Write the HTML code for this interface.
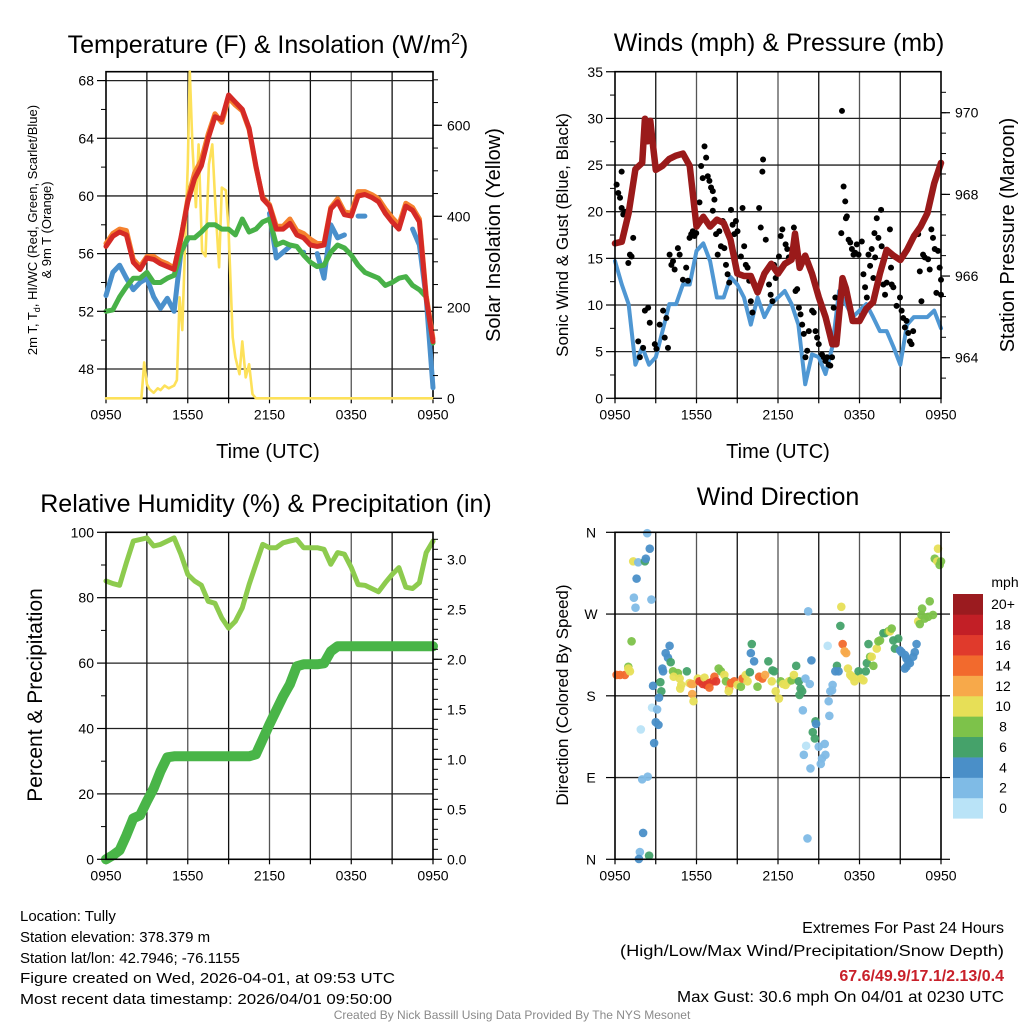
<!DOCTYPE html>
<html><head><meta charset="utf-8"><style>
html,body{margin:0;padding:0;background:#fff;}
svg{display:block;font-family:"Liberation Sans",Arial,sans-serif;}
</style></head><body>
<svg id="fig" width="1024" height="1024" viewBox="0 0 1024 1024" xmlns="http://www.w3.org/2000/svg">
<rect width="1024" height="1024" fill="#fff"/>
</svg>
<script>
// ---------------- DATA ----------------
const halfHours = [0,0.5,1,1.5,2,2.5,3,3.5,4,4.5,5,5.5,6,6.5,7,7.5,8,8.5,9,9.5,10,10.5,11,11.5,12,12.5,13,13.5,14,14.5,15,15.5,16,16.5,17,17.5,18,18.5,19,19.5,20,20.5,21,21.5,22,22.5,23,23.5,24];
const timeTickHours = [0,6,12,18,24];
const timeTickLabels = ["0950","1550","2150","0350","0950"];

const tempRed = [56.5,57.2,57.5,57.3,55.4,54.9,55.7,55.6,55.3,55.1,54.9,57.1,59.6,61.2,62.1,64.0,65.5,65.3,67.0,66.5,66.0,64.7,62.1,59.8,59.3,57.7,57.7,58.1,57.3,57.1,56.6,56.5,56.6,59.1,59.6,58.7,58.6,60.0,60.1,59.9,59.6,58.8,58.2,57.7,59.3,59.0,58.2,52.9,49.9];
const tempOrange = [56.7,57.4,57.7,57.6,55.6,55.1,55.8,55.8,55.5,55.3,55.0,57.0,59.8,61.6,62.5,64.3,65.7,65.1,66.8,66.3,65.9,64.6,62.0,59.9,59.4,57.9,57.9,58.4,57.6,57.4,57.0,56.7,56.7,59.2,59.8,58.9,58.8,60.3,60.3,60.1,59.8,59.1,58.5,58.0,59.5,59.2,58.4,53.1,50.1];
const dewGreen = [52.0,52.1,53.0,53.7,54.3,54.3,54.7,54.0,54.0,54.3,54.5,56.1,57.1,57.1,57.5,58.0,58.0,57.7,57.7,57.3,58.4,57.5,57.7,58.2,58.4,56.6,56.8,56.6,56.5,55.9,55.4,55.1,55.2,56.1,56.6,56.4,55.9,55.2,54.7,54.5,54.3,53.8,54.0,54.3,54.4,53.8,53.5,53.0,49.8];
const wcBlue = [53.1,54.7,55.2,54.3,53.5,54.0,54.3,53.0,52.2,52.9,52.0,56.1,57.0,null,null,null,null,null,null,null,null,null,null,null,58.8,55.7,56.1,56.5,null,56.1,null,56.0,54.3,58.0,57.1,57.3,null,58.6,58.6,null,null,null,null,null,null,57.7,56.6,52.9,46.7];
const tempTicks = [48,52,56,60,64,68];
const solarTicks = [0,200,400,600];
const solarHours = [0,2.6,2.8,3.0,3.2,3.5,3.8,4.0,4.3,4.6,5.0,5.2,5.4,5.6,5.85,6.0,6.15,6.35,6.6,6.8,7.05,7.3,7.55,7.8,8.05,8.3,8.5,8.8,9.0,9.3,9.5,9.8,10.0,10.25,10.5,10.75,11,24];
const solarVals = [0,0,79,31,20,12,22,18,28,22,28,40,222,150,380,514,718,551,420,558,323,312,514,558,411,288,463,457,367,134,90,53,125,46,75,9,0,0];

const windVals = [14.7,12.2,10.1,3.6,5.5,3.6,4.4,7.2,10.1,10.1,12.2,12.2,15.8,16.6,14.7,10.8,10.8,13.0,12.2,10.8,7.9,10.8,8.7,10.1,10.8,11.5,10.1,7.9,1.5,4.7,4.4,2.6,5.5,11.5,10.1,8.7,9.4,10.1,8.7,7.2,7.2,5.5,3.6,7.9,8.7,8.7,8.7,9.4,7.5];
const presHours = [0,0.5,1,1.5,2,2.2,2.4,2.6,2.8,3,3.5,4,4.5,5,5.5,6,6.5,7,7.5,8,8.5,9,9.5,10,10.5,11,11.5,12,12.5,13,13.25,13.6,14,14.5,15,15.5,16,16.3,16.75,17,17.5,18,18.5,19,19.5,20,20.5,21,21.5,22,22.5,23,23.5,24];
const presVals = [966.8,966.84,967.54,968.62,968.77,969.85,969.3,969.8,969.2,968.6,968.7,968.87,968.95,969.0,968.7,967.21,967.45,967.21,967.38,967.3,966.89,966.06,966.0,966.0,965.6,966.06,966.3,966.06,966.3,966.4,967.04,966.2,966.5,966.06,965.48,965.0,964.33,964.33,965.95,965.7,964.9,964.9,965.2,965.36,966.06,966.64,966.5,966.39,966.64,966.97,967.21,967.54,968.27,968.77];
const gustHours = [0.12,0.24,0.37,0.49,0.61,0.73,0.49,0.98,1.10,1.22,1.34,1.83,1.71,2.07,2.20,2.44,2.56,2.93,3.05,3.29,3.54,3.66,3.78,3.90,4.02,4.15,4.27,4.39,4.63,4.76,5.0,5.24,5.37,5.49,5.61,5.73,5.85,5.98,6.22,6.34,6.46,6.59,6.71,6.83,6.95,7.07,7.20,7.32,7.20,7.44,7.56,7.68,7.80,7.93,8.05,8.17,8.29,8.41,8.54,8.66,8.78,8.90,9.02,9.27,9.39,9.51,9.63,9.76,9.88,10.0,10.12,10.37,10.61,10.73,10.85,10.9,11.1,11.34,11.46,11.59,11.71,11.83,12.07,12.2,12.32,12.56,12.68,12.8,13.17,13.29,13.41,13.54,13.66,13.78,13.9,14.02,14.15,14.27,14.51,14.63,14.76,14.88,15.0,15.24,15.37,15.49,15.61,15.73,15.85,15.98,16.1,16.22,16.71,16.83,16.95,17.0,17.07,16.66,17.2,17.32,17.44,17.56,17.68,17.8,17.93,18.17,18.29,18.41,18.54,18.66,18.78,18.9,19.02,19.1,19.15,19.27,19.39,19.59,19.63,19.76,19.88,20.0,20.24,20.32,20.37,20.49,20.73,20.98,21.1,21.22,21.34,21.46,21.59,21.71,21.83,21.95,22.32,22.44,22.56,22.68,22.8,23.05,23.17,23.29,23.41,23.54,23.66,23.78,23.9,24.0,24.0];
const gustVals = [22.9,22.0,21.5,20.4,19.7,20.0,24.3,14.5,15.4,15.2,17.2,4.4,6.1,5.4,9.4,9.7,8.1,5.8,5.3,7.9,9.4,6.5,8.6,5.4,15.4,14.3,14.7,13.8,16.1,15.4,12.7,14.0,12.6,17.2,17.6,17.9,17.4,17.7,21.0,24.9,23.6,27.0,25.8,23.8,23.3,22.6,22.2,21.3,20.1,17.6,15.4,17.9,16.3,19.0,16.1,14.3,13.3,12.4,20.2,18.6,17.6,19.0,17.9,15.2,20.4,16.3,14.3,14.0,12.6,10.4,9.2,11.9,20.4,18.3,24.3,25.6,17.0,12.2,11.1,10.4,14.3,12.9,15.2,17.4,18.1,16.5,16.0,15.1,18.3,11.5,11.7,9.7,9.0,7.9,6.9,4.4,5.1,7.2,9.4,9.2,7.2,6.5,5.8,4.7,4.4,4.0,4.4,3.6,3.5,4.4,9.7,10.8,30.8,22.7,21.1,19.3,19.5,17.7,17.0,16.7,16.0,15.4,15.6,16.5,15.4,16.8,13.3,11.9,10.8,15.4,14.2,16.0,12.9,17.7,15.1,19.3,17.2,20.2,16.3,12.2,11.1,12.4,18.1,14.0,12.2,11.9,9.9,10.8,9.4,8.6,7.6,8.3,7.0,6.1,5.8,7.2,17.6,13.6,10.4,15.4,15.1,14.9,13.8,18.1,17.2,16.0,11.3,15.8,14.0,12.7,11.1];
const windTicks = [0,5,10,15,20,25,30,35];
const presTicks = [964,966,968,970];

const rhVals = [85.1,84.3,83.8,90.7,97.3,97.8,98.3,95.8,96.3,97.3,98.3,93.3,87.1,85.1,83.8,78.9,78.3,73.8,70.7,72.8,76.9,84.0,90.2,96.3,95.3,95.3,96.8,97.3,97.8,95.3,95.3,95.3,94.8,90.2,93.8,93.3,89.2,84.0,83.8,82.8,81.8,84.6,87.1,89.2,83.2,82.8,84.6,93.8,97.3];
const precipVals = [0.0,0.04,0.09,0.24,0.41,0.44,0.58,0.71,0.88,1.02,1.03,1.03,1.03,1.03,1.03,1.03,1.03,1.03,1.03,1.03,1.03,1.03,1.05,1.2,1.35,1.49,1.63,1.75,1.93,1.95,1.95,1.95,1.96,2.08,2.13,2.13,2.13,2.13,2.13,2.13,2.13,2.13,2.13,2.13,2.13,2.13,2.13,2.13,2.13];
const rhTicks = [0,20,40,60,80,100];
const precipTicks = ["0.0","0.5","1.0","1.5","2.0","2.5","3.0"];

const dirHours = [0.12,0.37,0.73,0.98,1.10,0.98,1.22,1.34,1.71,2.20,2.27,2.37,2.56,1.59,1.39,1.51,2.68,2.80,3.34,3.41,3.24,2.73,3.10,1.90,3.0,3.20,2.88,2.0,2.41,2.07,1.83,1.76,2.51,4.02,3.73,3.90,4.10,3.49,3.54,4.27,4.63,4.32,4.76,4.88,4.80,5.29,5.49,5.61,5.73,5.68,5.78,6.10,6.22,6.46,6.59,6.71,6.95,7.20,7.32,7.44,6.95,7.63,7.80,8.05,8.17,8.41,8.37,8.54,8.78,9.02,9.27,9.39,9.63,9.76,9.93,10.07,10.0,10.24,10.49,10.61,10.85,11.05,11.29,11.59,11.54,11.71,11.83,12.07,12.20,12.37,12.56,12.80,13.0,13.17,13.34,13.54,13.66,13.59,13.78,14.02,14.34,13.83,14.46,14.76,14.80,14.56,14.71,14.07,13.90,15.0,15.44,15.24,15.49,15.15,14.39,14.17,14.22,15.66,15.73,15.78,15.85,16.02,15.98,16.34,16.22,16.46,16.66,16.59,16.76,16.90,17.02,17.15,17.32,17.44,17.63,17.80,17.93,18.12,18.29,18.46,18.66,18.54,18.78,18.90,19.02,19.27,19.39,19.51,19.76,19.88,20.12,20.24,20.37,20.49,20.61,20.85,20.98,21.10,21.34,21.46,21.59,21.71,21.95,22.07,22.20,21.34,21.46,22.32,22.44,22.56,22.61,22.80,23.05,23.17,23.41,23.54,23.73,23.78,23.90,24.0];
const dirDeg = [203,203,203,212,207,210,240,328,327,328,331,359,342,309,288,277,286,191,195,185,178,167,165,143,151,148,128,88,91,29,8,0.4,4,235,227,222,217,210,207,207,205,201,199,192,188,207,194,193,193,182,174,199,196,193,200,192,194,196,201,196,189,210,207,203,196,188,185,194,196,192,190,199,203,196,206,237,227,218,190,201,199,203,218,208,196,207,185,177,196,193,192,196,197,203,213,196,188,181,185,199,193,164,219,152,149,140,133,125,115,124,127,111,115,105,100,23,273,235,174,158,185,192,186,213,207,207,278,257,237,229,227,210,203,201,196,201,207,199,197,207,237,216,223,223,213,232,240,241,249,249,251,251,254,241,232,243,230,228,225,221,218,216,223,228,237,210,212,262,259,269,276,265,267,284,269,331,328,342,324,328];
const dirSpeed = [15,15,15,9,11,11,9,11,3,7,5,3,5,5,3,3,3,5,7,7,5,1,3,1,5,5,5,3,3,5,3,5,7,5,5,5,7,5,5,9,9,11,11,11,11,7,11,13,13,13,11,11,17,17,11,17,17,17,15,17,15,9,9,11,9,13,11,15,15,11,9,15,11,11,7,7,5,5,9,15,15,13,7,7,11,7,11,11,9,11,11,11,9,11,7,7,7,7,7,3,3,3,5,7,5,7,7,1,3,3,3,3,3,3,3,3,3,1,3,3,3,3,3,7,5,5,11,7,15,13,13,11,11,11,11,11,7,11,11,7,7,7,9,11,9,11,9,9,7,7,9,11,9,7,7,7,5,5,5,5,5,5,5,5,5,5,5,11,9,9,9,9,9,9,9,9,11,11,9,9];
const speedBinColors = ["#b9e3f7","#7fbbe6","#4a8fc8","#45a26a","#7dc24a","#e7df57","#f7a94a","#f26a2d","#e03a2c","#c21f26","#9b1b1f"];
const speedBinLabels = ["0","2","4","6","8","10","12","14","16","18","20+"];
const dirTickDeg = [0,90,180,270,360];
const dirTickLabels = ["N","E","S","W","N"];

// ---------------- HELPERS ----------------
const NS = "http://www.w3.org/2000/svg";
const svg = document.getElementById('fig');
function mk(tag, attrs, parent){
  const e = document.createElementNS(NS, tag);
  for (const k in attrs) e.setAttribute(k, attrs[k]);
  (parent||svg).appendChild(e);
  return e;
}
function txt(s, x, y, size, anchor, parent, extra){
  const t = mk('text', Object.assign({x:x, y:y, 'font-size':size, 'text-anchor':anchor||'start', fill:'#000'}, extra||{}), parent);
  t.textContent = s;
  return t;
}
function linePath(xs, ys, X, Y){
  let d = ''; let pen = false;
  for (let i=0;i<xs.length;i++){
    if (ys[i]===null || ys[i]===undefined){ pen=false; continue; }
    const px = X(xs[i]).toFixed(1), py = Y(ys[i]).toFixed(1);
    if (!pen){ d += 'M'+px+' '+py+' L'+px+' '+py+' '; pen=true; }
    else d += 'L'+px+' '+py+' ';
  }
  return d;
}
function makeX(x0, x1){ return h => x0 + (h/24)*(x1-x0); }

function frame(name, x0, x1, yT, yB, hGrid){
  const g = mk('g', {});
  
  
  const X = makeX(x0, x1);
  for (let h=3; h<24; h+=3){
    const l = mk('line', {x1:X(h), x2:X(h), y1:yT, y2:yB, stroke:(h%6===0?'#555':'#111'), 'stroke-width':1.3}, g);
    
    
  }
  hGrid.forEach(y => {
    const l = mk('line', {x1:x0, x2:x1, y1:y, y2:y, stroke:'#222', 'stroke-width':1.3}, g);
    
    
  });
  for (let h=0; h<=24; h+=3){
    const t = mk('line', {x1:X(h), x2:X(h), y1:yB, y2:yB+5, stroke:'#000', 'stroke-width':1.2}, g);
    
    
  }
  timeTickHours.forEach((h,i) => {
    const t = txt(timeTickLabels[i], X(h), yB+21, 14, 'middle', g);
    
    
  });
  return {X, g};
}
function border(x0,x1,yT,yB){
  const r = mk('rect', {x:x0, y:yT, width:x1-x0, height:yB-yT, fill:'none', stroke:'#000', 'stroke-width':1.6});
  
  
}
function yTicks(x, vals, Y, side, labels, majorLen, parentName){
  const g = mk('g', {});
  
  
  vals.forEach((v,i) => {
    const y = Y(v);
    const dx = side==='left' ? -majorLen : majorLen;
    const l = mk('line', {x1:x, x2:x+dx, y1:y, y2:y, stroke:'#000', 'stroke-width':1.2}, g);
    
    
    if (labels){
      const t = txt(labels[i], side==='left' ? x-12 : x+14, y+5, 14, side==='left'?'end':'start', g);
      
      
    }
  });
}
function minorTicks(x, from, to, step, Y, side, len){
  const g = mk('g', {});
  
  
  for (let v=from; v<=to+1e-9; v+=step){
    const dx = side==='left' ? -len : len;
    const l = mk('line', {x1:x, x2:x+dx, y1:Y(v), y2:Y(v), stroke:'#000', 'stroke-width':1}, g);
    
    
  }
}
function rotLabel(s, x, y, size, name){
  const t = txt(s, x, y, size, 'middle', svg, {transform:'rotate(-90 '+x+' '+y+')'});
  
  
  return t;
}

// ---------------- PANEL 1: Temperature ----------------
(function(){
  const x0=106, x1=433, yT=71.7, yB=398.3;
  const tY = v => 369 - (v-48)*14.42;
  const sY = v => yB - v*0.455;
  const f = frame('temperature', x0, x1, yT, yB, tempTicks.map(tY));
  const X = f.X;
  border(x0,x1,yT,yB);
  const series = [
    ['solar-insolation-line', solarHours, solarVals, sY, '#fde15a', 2.6],
    ['heat-index-windchill-line', halfHours, wcBlue, tY, '#4a90cc', 5],
    ['dewpoint-line', halfHours, dewGreen, tY, '#48b148', 5],
    ['temp-9m-line', halfHours, tempOrange, tY, '#f5822f', 5],
    ['temp-2m-line', halfHours, tempRed, tY, '#d52a26', 5]
  ];
  series.forEach(s => {
    const p = mk('path', {d:linePath(s[1], s[2], X, s[3]), fill:'none', stroke:s[4], 'stroke-width':s[5], 'stroke-linejoin':'round', 'stroke-linecap':'round'});
    
    
  });
  yTicks(x0, tempTicks, tY, 'left', tempTicks.map(String), 9, 'temperature-y-axis');
  minorTicks(x0, 50, 66, 4, tY, 'left', 5);
  yTicks(x1, solarTicks, sY, 'right', solarTicks.map(String), 9, 'solar-y-axis');
  minorTicks(x1, 50, 700, 50, sY, 'right', 5);
  const title = txt('', 268, 53, 25, 'middle');
  title.innerHTML = 'Temperature (F) &amp; Insolation (W/m<tspan dy="-9" font-size="16">2</tspan><tspan dy="9">)</tspan>';
  
  
  const xl = txt('Time (UTC)', 268, 458, 20, 'middle');
  
  
  const l1 = txt('', 37, 230, 13, 'middle', svg, {transform:'rotate(-90 37 230)'});
  l1.innerHTML = '2m T, T<tspan dy="3" font-size="9">d</tspan><tspan dy="-3">, HI/WC (Red, Green, Scarlet/Blue)</tspan>';
  
  
  rotLabel('& 9m T (Orange)', 51, 230, 13, 'temperature-y-axis-title-line2');
  rotLabel('Solar Insolation (Yellow)', 500, 235, 20, 'solar-y-axis-title');
})();

// ---------------- PANEL 2: Winds & Pressure ----------------
(function(){
  const x0=615, x1=941, yT=71.7, yB=398.3;
  const wY = v => yB - v*9.33;
  const pY = v => 357.7 - (v-964)*40.83;
  const f = frame('winds', x0, x1, yT, yB, windTicks.map(wY));
  const X = f.X;
  const w = mk('path', {d:linePath(halfHours, windVals, X, wY), fill:'none', stroke:'#4f97d3', 'stroke-width':4, 'stroke-linejoin':'round', 'stroke-linecap':'round'});
  
  
  const gg = mk('g', {});
  
  
  gustHours.forEach((h,i) => {
    const c = mk('circle', {cx:X(h), cy:wY(gustVals[i]), r:3, fill:'#000'}, gg);
    
    
  });
  const p = mk('path', {d:linePath(presHours, presVals, X, pY), fill:'none', stroke:'#9a1a1a', 'stroke-width':6.5, 'stroke-linejoin':'round', 'stroke-linecap':'round'});
  
  
  border(x0,x1,yT,yB);
  yTicks(x0, windTicks, wY, 'left', windTicks.map(String), 9, 'wind-y-axis');
  minorTicks(x0, 2.5, 32.5, 5, wY, 'left', 5);
  yTicks(x1, presTicks, pY, 'right', presTicks.map(String), 9, 'pressure-y-axis');
  minorTicks(x1, 963.5, 970.5, 0.5, pY, 'right', 5);
  const title = txt('Winds (mph) & Pressure (mb)', 779, 51, 25, 'middle');
  
  
  const xl = txt('Time (UTC)', 778, 458, 20, 'middle');
  
  
  rotLabel('Sonic Wind & Gust (Blue, Black)', 568, 235, 17, 'wind-y-axis-title');
  rotLabel('Station Pressure (Maroon)', 1014, 235, 20, 'pressure-y-axis-title');
})();

// ---------------- PANEL 3: RH & Precip ----------------
(function(){
  const x0=106, x1=433, yT=532.3, yB=859.3;
  const rY = v => yB - v*3.27;
  const prY = v => yB - v*100;
  const f = frame('humidity', x0, x1, yT, yB, [20,40,60,80].map(rY));
  const X = f.X;
  const pr = mk('path', {d:linePath(halfHours, precipVals, X, prY), fill:'none', stroke:'#49b548', 'stroke-width':10, 'stroke-linejoin':'round', 'stroke-linecap':'round'});
  
  
  const rh = mk('path', {d:linePath(halfHours, rhVals, X, rY), fill:'none', stroke:'#8dcb4e', 'stroke-width':5, 'stroke-linejoin':'round', 'stroke-linecap':'round'});
  
  
  border(x0,x1,yT,yB);
  yTicks(x0, rhTicks, rY, 'left', rhTicks.map(String), 9, 'rh-y-axis');
  minorTicks(x0, 10, 90, 20, rY, 'left', 5);
  yTicks(x1, precipTicks.map(Number), prY, 'right', precipTicks, 9, 'precip-y-axis');
  minorTicks(x1, 0.1, 3.2, 0.1, prY, 'right', 5);
  const title = txt('Relative Humidity (%) & Precipitation (in)', 266, 512, 25, 'middle');
  
  
  rotLabel('Percent & Precipitation', 42, 695, 21, 'rh-y-axis-title');
})();

// ---------------- PANEL 4: Wind Direction ----------------
(function(){
  const x0=615, x1=941, yT=532.3, yB=859.3;
  const dY = v => yB - v*0.9083;
  const f = frame('direction', x0, x1, yT, yB, [90,180,270].map(dY));
  const X = f.X;
  const gd = mk('g', {});
  
  
  dirHours.forEach((h,i) => {
    const bin = Math.min(10, Math.floor(dirSpeed[i]/2));
    const c = mk('circle', {cx:X(h), cy:dY(dirDeg[i]), r:4.3, fill:speedBinColors[bin], 'fill-opacity':0.95}, gd);
    
    
  });
  border(x0,x1,yT,yB);
  const ga = mk('g', {});
  
  
  dirTickDeg.forEach((d,i) => {
    const y = dY(d);
    const l = mk('line', {x1:x0, x2:x0-9, y1:y, y2:y, stroke:'#000', 'stroke-width':1.2}, ga);
    
    
    const r = mk('line', {x1:x1, x2:x1+9, y1:y, y2:y, stroke:'#000', 'stroke-width':1.2}, ga);
    
    
    const t = txt(dirTickLabels[i], x0-24, y+5, 14, 'middle', ga);
    
    
  });
  const title = txt('Wind Direction', 778, 505, 25, 'middle');
  
  
  rotLabel('Direction (Colored By Speed)', 568, 695, 17, 'direction-y-axis-title');
  const cb = mk('g', {});
  
  
  const cbTop=594, cbBot=818.3, binH=(cbBot-cbTop)/speedBinColors.length;
  speedBinColors.forEach((c,i) => {
    const y = cbBot - (i+1)*binH;
    const r = mk('rect', {x:953, y:y, width:30, height:binH+0.3, fill:c}, cb);
    
    
    const t = txt(speedBinLabels[i], 1003, y+binH/2+5, 14, 'middle', cb);
    
    
  });
  const u = txt('mph', 1005, 587, 14, 'middle', cb);
  
  
})();

// ---------------- FOOTER TEXT ----------------
const info = [
  ['Location: Tully', 921, 'location-text', 0],
  ['Station elevation: 378.379 m', 942, 'elevation-text', 0],
  ['Station lat/lon: 42.7946; -76.1155', 963, 'latlon-text', 0],
  ['Figure created on Wed, 2026-04-01, at 09:53 UTC', 983, 'created-text', 375],
  ['Most recent data timestamp: 2026/04/01 09:50:00', 1004, 'timestamp-text', 372]
];
info.forEach(r => {
  const t = txt(r[0], 20, r[1], 15, 'start', svg, r[3] ? {textLength:r[3], lengthAdjust:'spacingAndGlyphs'} : {});
  
  
});
const ext = [
  ['Extremes For Past 24 Hours', 933, 'extremes-title', '#000', 'normal', 0],
  ['(High/Low/Max Wind/Precipitation/Snow Depth)', 956, 'extremes-legend', '#000', 'normal', 384],
  ['67.6/49.9/17.1/2.13/0.4', 981, 'extremes-values', '#c8202a', 'bold', 0],
  ['Max Gust: 30.6 mph On 04/01 at 0230 UTC', 1002, 'max-gust-text', '#000', 'normal', 327]
];
ext.forEach(r => {
  const extra = {fill:r[3], 'font-weight':r[4]};
  if (r[5]) { extra.textLength = r[5]; extra.lengthAdjust = 'spacingAndGlyphs'; }
  const t = txt(r[0], 1004, r[1], 16, 'end', svg, extra);
  
  
});
const cr = txt('Created By Nick Bassill Using Data Provided By The NYS Mesonet', 512, 1019, 12, 'middle', svg, {fill:'#8a8a8a'});


</script>
</body></html>
